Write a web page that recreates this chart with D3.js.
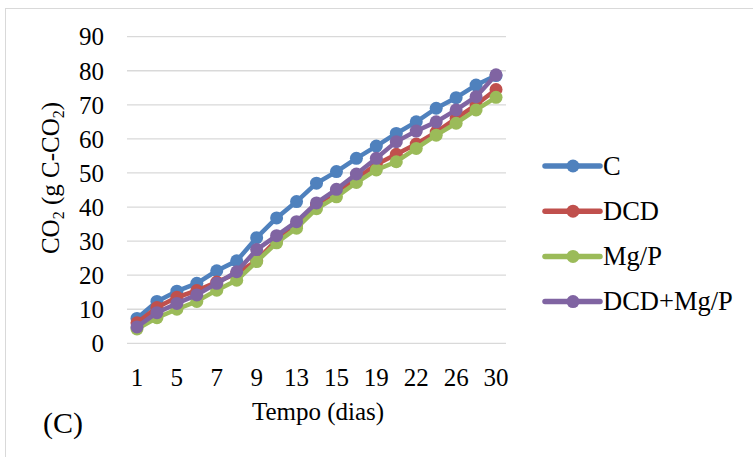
<!DOCTYPE html>
<html><head><meta charset="utf-8">
<script src="https://cdn.jsdelivr.net/npm/d3@7"></script>
<style>body{margin:0;background:#fff;} svg{display:block;font-family:"Liberation Serif","Times New Roman",serif;}</style>
</head><body>
<svg id="c" width="753" height="457"></svg>
<script>
const days = [1,3,5,6,7,8,9,11,13,14,15,17,19,20,22,24,26,28,30];
const shownDays = [1,5,7,9,13,15,19,22,26,30];
const yTicks = [0,10,20,30,40,50,60,70,80,90];
const seriesNames = ["C","DCD","Mg/P","DCD+Mg/P"];
const seriesColors = ["#4F81BD","#C0504D","#9BBB59","#8064A2"];
const valC =    [7.3,12.3,15.3,17.6,21.3,24.2,31.0,36.8,41.6,47.0,50.4,54.3,57.9,61.6,65.0,69.0,72.1,75.8,78.6];
const valDCD =  [6.0,10.5,13.5,15.5,18.0,20.5,24.3,30.3,34.8,40.6,44.5,48.3,52.5,55.5,58.5,62.0,66.0,70.0,74.5];
const valMgP =  [4.2,7.5,10.0,12.3,15.6,18.5,24.0,29.5,33.8,39.5,43.0,47.2,50.9,53.3,57.2,61.1,64.6,68.5,72.2];
const valDCDMgP=[4.8,9.0,11.7,14.2,17.6,21.0,27.5,31.6,35.7,41.2,45.2,49.7,54.3,59.2,62.3,65.0,68.5,72.4,78.8];
const allVals = [valC,valDCD,valMgP,valDCDMgP];

const svg = d3.select("#c");
svg.append("rect").attr("x",5.5).attr("y",8.5).attr("width",760).attr("height",460)
  .attr("fill","none").attr("stroke","#d9d9d9").attr("stroke-width",1);

const x = d3.scaleBand().domain(days).range([127,506]).padding(0);
const y = d3.scaleLinear().domain([0,90]).range([343.3,36.7]);

svg.append("g").selectAll("line").data(yTicks).join("line")
  .attr("x1",127).attr("x2",506).attr("y1",d=>y(d)).attr("y2",d=>y(d))
  .attr("stroke","#d9d9d9").attr("stroke-width",1.3);

const yAxis = d3.axisLeft(y).tickValues(yTicks).tickSize(0).tickPadding(0);
const gy = svg.append("g").attr("transform","translate(104,0)").call(yAxis);
gy.select(".domain").remove();
gy.selectAll("text").attr("font-size",25).attr("font-family","Liberation Serif").attr("fill","#000").attr("dy","0.33em");

const xAxis = d3.axisBottom(x).tickValues(shownDays).tickSize(0).tickPadding(0);
const gx = svg.append("g").attr("transform","translate(0,368)").call(xAxis);
gx.select(".domain").remove();
gx.selectAll("text").attr("font-size",25).attr("font-family","Liberation Serif").attr("fill","#000").attr("dy","0.71em");

const cx = d => x(d) + x.bandwidth()/2;
const line = d3.line().x((v,i)=>cx(days[i])).y(v=>y(v));

allVals.forEach((vals,k)=>{
  const g = svg.append("g");
  g.append("path").attr("d",line(vals)).attr("fill","none")
    .attr("stroke",seriesColors[k]).attr("stroke-width",4.5).attr("stroke-linejoin","round");
  g.selectAll("circle").data(vals).join("circle")
    .attr("cx",(v,i)=>cx(days[i])).attr("cy",v=>y(v)).attr("r",6.5)
    .attr("fill",seriesColors[k]);
});

const leg = svg.append("g");
seriesNames.forEach((n,k)=>{
  const ly = 166 + k*45.2;
  leg.append("line").attr("x1",545).attr("x2",600).attr("y1",ly).attr("y2",ly)
    .attr("stroke",seriesColors[k]).attr("stroke-width",5.5).attr("stroke-linecap","round");
  leg.append("circle").attr("cx",573).attr("cy",ly).attr("r",6.5).attr("fill",seriesColors[k]);
  leg.append("text").attr("x",603).attr("y",ly).attr("dy","0.33em").attr("font-size",26.5).text(n);
});

const yt = svg.append("text").attr("transform","translate(59,178) rotate(-90)")
  .attr("text-anchor","middle").attr("font-size",25);
yt.append("tspan").text("CO");
yt.append("tspan").attr("font-size",16).attr("dy",5).text("2");
yt.append("tspan").attr("dy",-5).text(" (g C-CO");
yt.append("tspan").attr("font-size",16).attr("dy",5).text("2");
yt.append("tspan").attr("dy",-5).text(")");

svg.append("text").attr("x",318).attr("y",420).attr("text-anchor","middle").attr("font-size",25).text("Tempo (dias)");
svg.append("text").attr("x",43).attr("y",433).attr("font-size",30).text("(C)");
</script>
</body></html>
